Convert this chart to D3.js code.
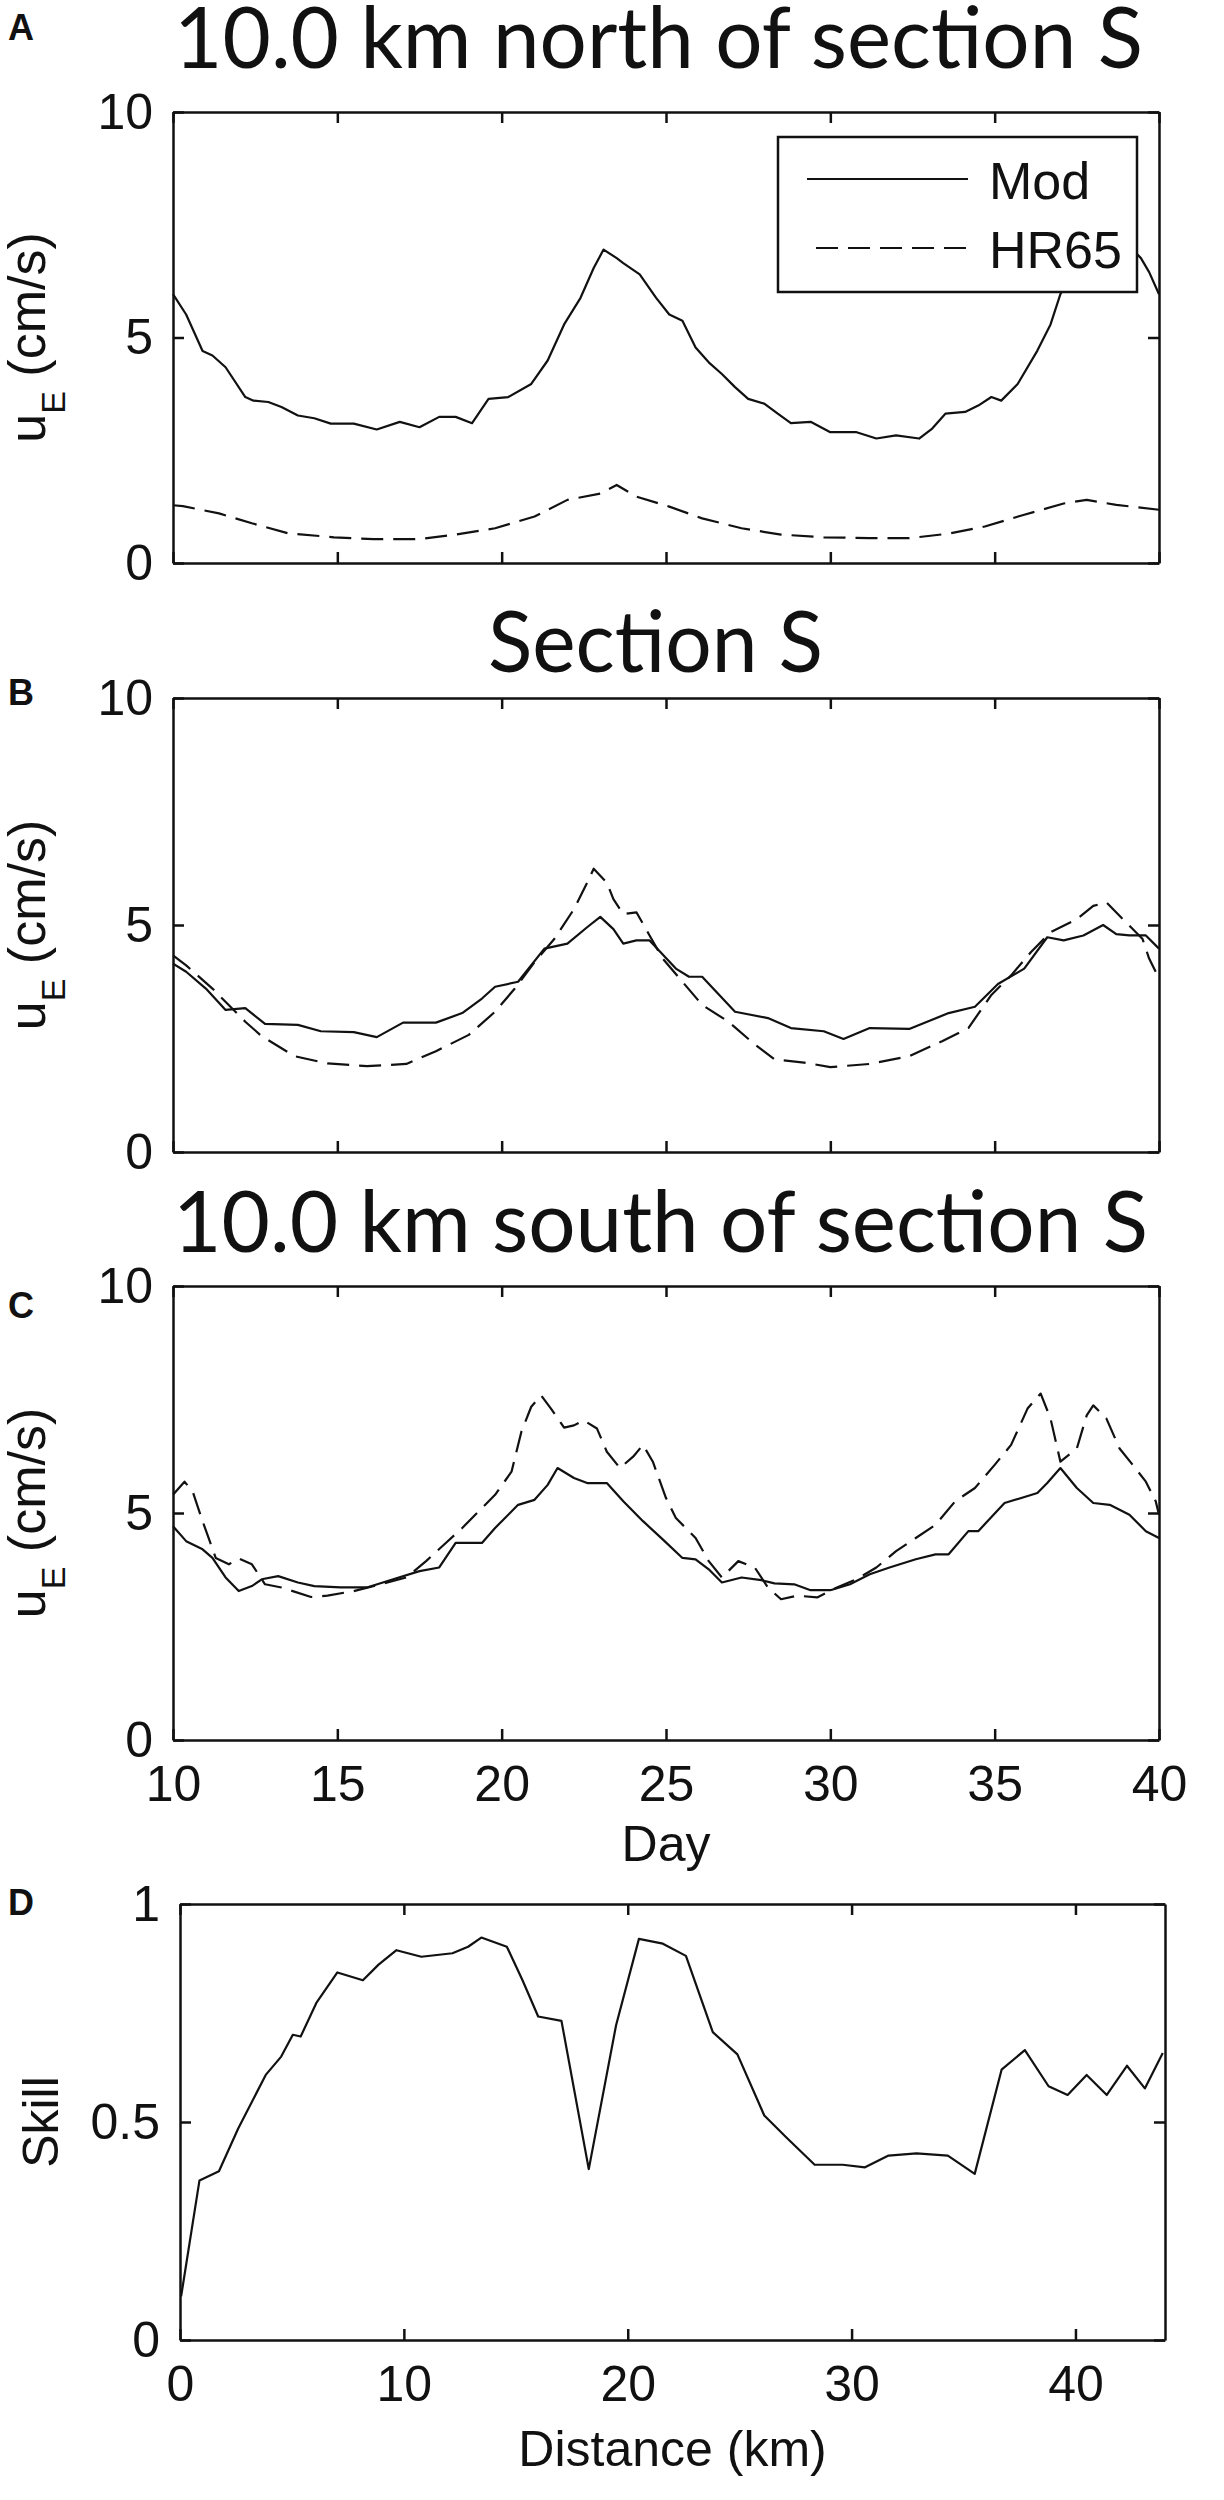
<!DOCTYPE html>
<html>
<head>
<meta charset="utf-8">
<script src="https://cdn.jsdelivr.net/npm/d3@7"></script>
<style>
  body { margin: 0; background: #fff; }
  svg { display: block; }
  .tick text { font-family: "Liberation Sans", Arial, sans-serif; font-size: 50px; fill: #111; }
  .tick line, .domain { stroke: #111; stroke-width: 2.5px; }
</style>
</head>
<body>
<script>
// day axis ticks (panels A-C) and distance ticks (panel D)
const dayTicks = [10, 15, 20, 25, 30, 35, 40];
const speedTicks = [0, 5, 10];
const distTicks = [0, 10, 20, 30, 40];
const skillTicks = [0, 0.5, 1];

const titles = ["10.0 km north of section S", "Section S", "10.0 km south of section S"];
const panelLetters = ["A", "B", "C", "D"];
const legendNames = ["Mod", "HR65"];

// [day, u_E cm/s]
const modA = [[10,5.96],[10.4,5.51],[10.9,4.7],[11.2,4.6],[11.6,4.34],[12.2,3.68],[12.45,3.6],[12.9,3.57],[13.3,3.46],[13.8,3.27],[14.3,3.21],[14.8,3.09],[15.5,3.09],[16.2,2.96],[16.9,3.13],[17.5,3.01],[18.1,3.24],[18.6,3.24],[19.1,3.1],[19.6,3.64],[20.2,3.68],[20.9,3.97],[21.4,4.49],[21.9,5.29],[22.4,5.88],[22.8,6.54],[23.1,6.95],[23.5,6.76],[23.7,6.65],[24.2,6.4],[24.7,5.88],[25.1,5.51],[25.5,5.37],[25.9,4.78],[26.3,4.45],[26.7,4.19],[27.1,3.9],[27.5,3.64],[28,3.53],[28.4,3.31],[28.8,3.1],[29.4,3.13],[30,2.9],[30.8,2.9],[31.4,2.76],[32,2.83],[32.7,2.76],[33.1,2.98],[33.5,3.31],[34.1,3.35],[34.5,3.49],[34.9,3.68],[35.2,3.6],[35.7,3.97],[36.3,4.71],[36.7,5.29],[37,5.96],[37.4,6.5],[37.8,6.9],[38.3,7.1],[38.8,7.1],[39.2,6.95],[39.45,6.76],[39.7,6.45],[40,5.96]];
const hrA = [[10,1.28],[10.3,1.26],[11.4,1.1],[12.4,0.88],[13.5,0.66],[14.9,0.57],[16.1,0.53],[17.5,0.53],[18.6,0.63],[19.8,0.77],[21,1.03],[22,1.4],[23,1.54],[23.5,1.73],[24.1,1.47],[25.1,1.25],[26.1,0.99],[27.3,0.77],[28.5,0.63],[29.8,0.57],[31.2,0.55],[32.4,0.55],[33.6,0.65],[34.7,0.81],[35.9,1.07],[37.1,1.32],[37.8,1.4],[38.7,1.29],[40,1.18]];

const modB = [[10,4.15],[10.4,3.97],[11,3.6],[11.6,3.13],[12.2,3.17],[12.8,2.82],[13.8,2.8],[14.5,2.66],[15.5,2.64],[16.2,2.53],[17,2.85],[18,2.85],[18.8,3.06],[19.4,3.38],[19.8,3.64],[20.5,3.75],[21.3,4.48],[22,4.59],[22.6,4.95],[23,5.18],[23.4,4.91],[23.7,4.59],[24.1,4.66],[24.5,4.66],[25.3,4.04],[25.7,3.86],[26.1,3.86],[27.1,3.09],[28.1,2.95],[28.8,2.73],[29.8,2.66],[30.4,2.49],[31.2,2.73],[32.4,2.71],[33.6,3.06],[34.4,3.2],[35.1,3.7],[35.9,4.04],[36.6,4.73],[37.1,4.66],[37.7,4.77],[38.3,5],[38.7,4.8],[39.1,4.77],[39.6,4.77],[40,4.48]];
const hrB = [[10,4.33],[10.4,4.11],[11.2,3.6],[12.2,2.87],[12.7,2.55],[13.7,2.11],[14.7,1.95],[15.9,1.89],[17.1,1.94],[18,2.22],[19,2.58],[19.8,3.09],[20.4,3.6],[21,4.18],[21.6,4.69],[22.2,5.35],[22.6,5.93],[22.8,6.24],[23.2,5.93],[23.4,5.57],[23.7,5.24],[24.1,5.28],[24.5,4.77],[24.9,4.26],[25.5,3.75],[26.1,3.24],[26.9,2.87],[27.7,2.37],[28.3,2.04],[29.2,1.97],[30,1.87],[31.2,1.94],[32.4,2.11],[33.4,2.44],[34.2,2.73],[34.9,3.46],[35.5,3.89],[36.1,4.4],[36.7,4.84],[37.5,5.13],[38,5.42],[38.4,5.5],[38.9,5.13],[39.5,4.69],[39.7,4.26],[40,3.82]];

const modC = [[10,4.71],[10.4,4.38],[10.9,4.2],[11.2,4.01],[11.6,3.58],[12,3.28],[12.4,3.39],[12.7,3.54],[13.2,3.61],[13.8,3.47],[14.3,3.39],[15.1,3.36],[15.9,3.36],[16.7,3.54],[17.5,3.72],[18.1,3.8],[18.6,4.34],[19.4,4.34],[19.8,4.67],[20.5,5.18],[21,5.29],[21.4,5.62],[21.7,5.99],[22.2,5.77],[22.6,5.66],[23.2,5.66],[23.7,5.26],[24.3,4.82],[24.9,4.42],[25.5,4.01],[25.9,3.98],[26.3,3.76],[26.7,3.47],[27.3,3.58],[27.9,3.52],[28.3,3.45],[28.9,3.43],[29.4,3.3],[30,3.3],[30.6,3.43],[31.2,3.65],[31.8,3.8],[32.6,3.98],[33.2,4.09],[33.6,4.09],[34.2,4.6],[34.5,4.6],[35.3,5.22],[36.3,5.44],[36.6,5.66],[37,5.99],[37.5,5.55],[38,5.22],[38.5,5.18],[39.1,4.96],[39.6,4.6],[40,4.45]];
const hrC = [[10,5.4],[10.35,5.69],[10.6,5.47],[10.9,4.82],[11.3,4.01],[11.7,3.87],[12,4],[12.4,3.87],[12.8,3.43],[13.3,3.36],[14.2,3.15],[14.7,3.18],[15.5,3.28],[16.3,3.43],[17.1,3.58],[17.7,3.94],[18.3,4.34],[18.8,4.67],[19.4,5.11],[19.8,5.4],[20.3,5.91],[20.6,6.79],[20.9,7.34],[21.2,7.59],[21.5,7.3],[21.9,6.88],[22.2,6.93],[22.5,7.04],[22.9,6.86],[23.2,6.35],[23.6,5.99],[24,6.24],[24.3,6.5],[24.6,6.13],[25,5.33],[25.3,4.89],[25.9,4.45],[26.3,3.94],[26.7,3.58],[27.2,3.94],[27.7,3.8],[28.1,3.36],[28.5,3.1],[29,3.18],[29.6,3.14],[30.2,3.36],[30.8,3.54],[31.4,3.8],[32,4.16],[32.6,4.45],[33.2,4.74],[33.8,5.26],[34.4,5.55],[35,6.06],[35.5,6.5],[36,7.3],[36.4,7.63],[36.7,7.08],[37,6.13],[37.5,6.42],[37.8,7.15],[38,7.37],[38.4,7.08],[38.8,6.42],[39.2,6.06],[39.6,5.69],[39.9,5.26],[40,4.96]];

// [distance km, skill]
const skill = [[0.05,0.1],[0.87,0.366],[1.74,0.387],[2.6,0.485],[3.83,0.608],[4.52,0.65],[5.04,0.7],[5.39,0.696],[6.09,0.773],[7.03,0.843],[8.17,0.825],[8.87,0.861],[9.67,0.894],[10.78,0.879],[12.17,0.887],[12.87,0.902],[13.46,0.923],[14.6,0.902],[15.3,0.825],[16,0.742],[17.04,0.732],[18.26,0.392],[19.48,0.722],[20.5,0.92],[21.57,0.909],[22.6,0.881],[23.8,0.706],[24.9,0.655],[26.1,0.515],[27.1,0.464],[28.35,0.402],[29.6,0.402],[30.6,0.396],[31.65,0.423],[32.9,0.428],[34.3,0.423],[35.5,0.381],[36.7,0.62],[37.74,0.665],[38.8,0.582],[39.65,0.562],[40.5,0.608],[41.4,0.562],[42.3,0.629],[43.1,0.577],[43.9,0.658]];

const ink = "#111";
const svg = d3.select("body").append("svg").attr("width", 1224).attr("height", 2500);

const dayX = d3.scaleLinear().domain([10, 40]).range([173, 1159]);
const distX = d3.scaleLinear().domain([0, 44]).range([180, 1165]);

// draw MATLAB-like box axes with inward ticks
function boxAxes(x, y, xt, yt, showX) {
  const g = svg.append("g");
  const [x0, x1] = x.range();
  const [y0, y1] = y.range();
  const fmt = d => String(d);
  g.append("g").attr("transform", `translate(0,${y0})`)
    .call(d3.axisBottom(x).tickValues(xt).tickSizeInner(-11).tickSizeOuter(0)
      .tickPadding(25).tickFormat(showX ? fmt : ""));
  g.append("g").attr("transform", `translate(0,${y1})`)
    .call(d3.axisTop(x).tickValues(xt).tickSizeInner(-11).tickSizeOuter(0).tickFormat(""));
  g.append("g").attr("transform", `translate(${x0},0)`)
    .call(d3.axisLeft(y).tickValues(yt).tickSizeInner(-11).tickSizeOuter(0)
      .tickPadding(20).tickFormat(fmt));
  g.append("g").attr("transform", `translate(${x1},0)`)
    .call(d3.axisRight(y).tickValues(yt).tickSizeInner(-11).tickSizeOuter(0).tickFormat(""));
  g.selectAll(".tick text").attr("fill", ink);
  return g;
}

function drawLine(x, y, data, dashed) {
  const line = d3.line().x(d => x(d[0])).y(d => y(d[1]));
  svg.append("path").datum(data)
    .attr("d", line)
    .attr("fill", "none")
    .attr("stroke", ink)
    .attr("stroke-width", 2.2)
    .attr("stroke-linejoin", "round")
    .attr("stroke-dasharray", dashed ? "22,10" : null);
}

function yLabelSpeed(cy) {
  const t = svg.append("text")
    .attr("transform", `translate(45,${cy}) rotate(-90)`)
    .attr("text-anchor", "middle")
    .attr("font-family", "Liberation Sans, Arial, sans-serif")
    .attr("font-size", 52)
    .attr("fill", ink);
  t.append("tspan").text("u");
  t.append("tspan").attr("font-size", 34).attr("dy", 20).text("E");
  t.append("tspan").attr("dy", -20).text(" (cm/s)");
}

function panelLetter(txt, px, py) {
  svg.append("text").attr("x", px).attr("y", py)
    .attr("font-family", "Liberation Sans, Arial, sans-serif")
    .attr("font-weight", "bold").attr("font-size", 36)
    .attr("fill", ink).text(txt);
}

function title(txt, px, py, len) {
  svg.append("text").attr("x", px).attr("y", py)
    .attr("font-family", "Lato, 'Open Sans', sans-serif")
    .attr("font-size", 86)
    .attr("textLength", len).attr("lengthAdjust", "spacingAndGlyphs")
    .attr("fill", ink).text(txt);
}

// panels A-C
const panels = [
  { top: 112, bottom: 563, mod: modA, hr: hrA, tx: 174, ty: 68, tl: 969, ly: 40 },
  { top: 698, bottom: 1152, mod: modB, hr: hrB, tx: 488, ty: 672, tl: 335, ly: 705 },
  { top: 1286, bottom: 1740, mod: modC, hr: hrC, tx: 173, ty: 1252, tl: 975, ly: 1318 }
];

panels.forEach((p, i) => {
  const y = d3.scaleLinear().domain([0, 10]).range([p.bottom, p.top]);
  drawLine(dayX, y, p.mod, false);
  drawLine(dayX, y, p.hr, true);
  boxAxes(dayX, y, dayTicks, speedTicks, i === 2);
  title(titles[i], p.tx, p.ty, p.tl);
  panelLetter(panelLetters[i], 8, p.ly);
  yLabelSpeed((p.top + p.bottom) / 2);

  if (i === 0) {
    // legend box covers the curve behind it
    const lg = svg.append("g");
    lg.append("rect").attr("x", 778).attr("y", 137).attr("width", 359).attr("height", 155)
      .attr("fill", "#fff").attr("stroke", ink).attr("stroke-width", 2.5);
    legendNames.forEach((name, k) => {
      const ly = 179 + k * 69;
      lg.append("line").attr("x1", k ? 816 : 807).attr("x2", 968)
        .attr("y1", ly).attr("y2", ly)
        .attr("stroke", ink).attr("stroke-width", 2.2)
        .attr("stroke-dasharray", k ? "22,10" : null);
      lg.append("text").attr("x", 989).attr("y", ly + 20)
        .attr("font-family", "Liberation Sans, Arial, sans-serif")
        .attr("font-size", 52).attr("fill", ink).text(name);
    });
  }
});

svg.append("text").attr("x", (dayX.range()[0] + dayX.range()[1]) / 2).attr("y", 1861)
  .attr("text-anchor", "middle")
  .attr("font-family", "Liberation Sans, Arial, sans-serif")
  .attr("font-size", 50).attr("fill", ink).text("Day");

// panel D
const skillY = d3.scaleLinear().domain([0, 1]).range([2340, 1904]);
drawLine(distX, skillY, skill, false);
boxAxes(distX, skillY, distTicks, skillTicks, true);
panelLetter(panelLetters[3], 8, 1915);

svg.append("text").attr("transform", "translate(58,2122) rotate(-90)")
  .attr("text-anchor", "middle")
  .attr("font-family", "Liberation Sans, Arial, sans-serif")
  .attr("font-size", 50).attr("fill", ink).text("Skill");

svg.append("text").attr("x", (distX.range()[0] + distX.range()[1]) / 2).attr("y", 2466)
  .attr("text-anchor", "middle")
  .attr("font-family", "Liberation Sans, Arial, sans-serif")
  .attr("font-size", 50).attr("fill", ink).text("Distance (km)");
</script>
</body>
</html>
